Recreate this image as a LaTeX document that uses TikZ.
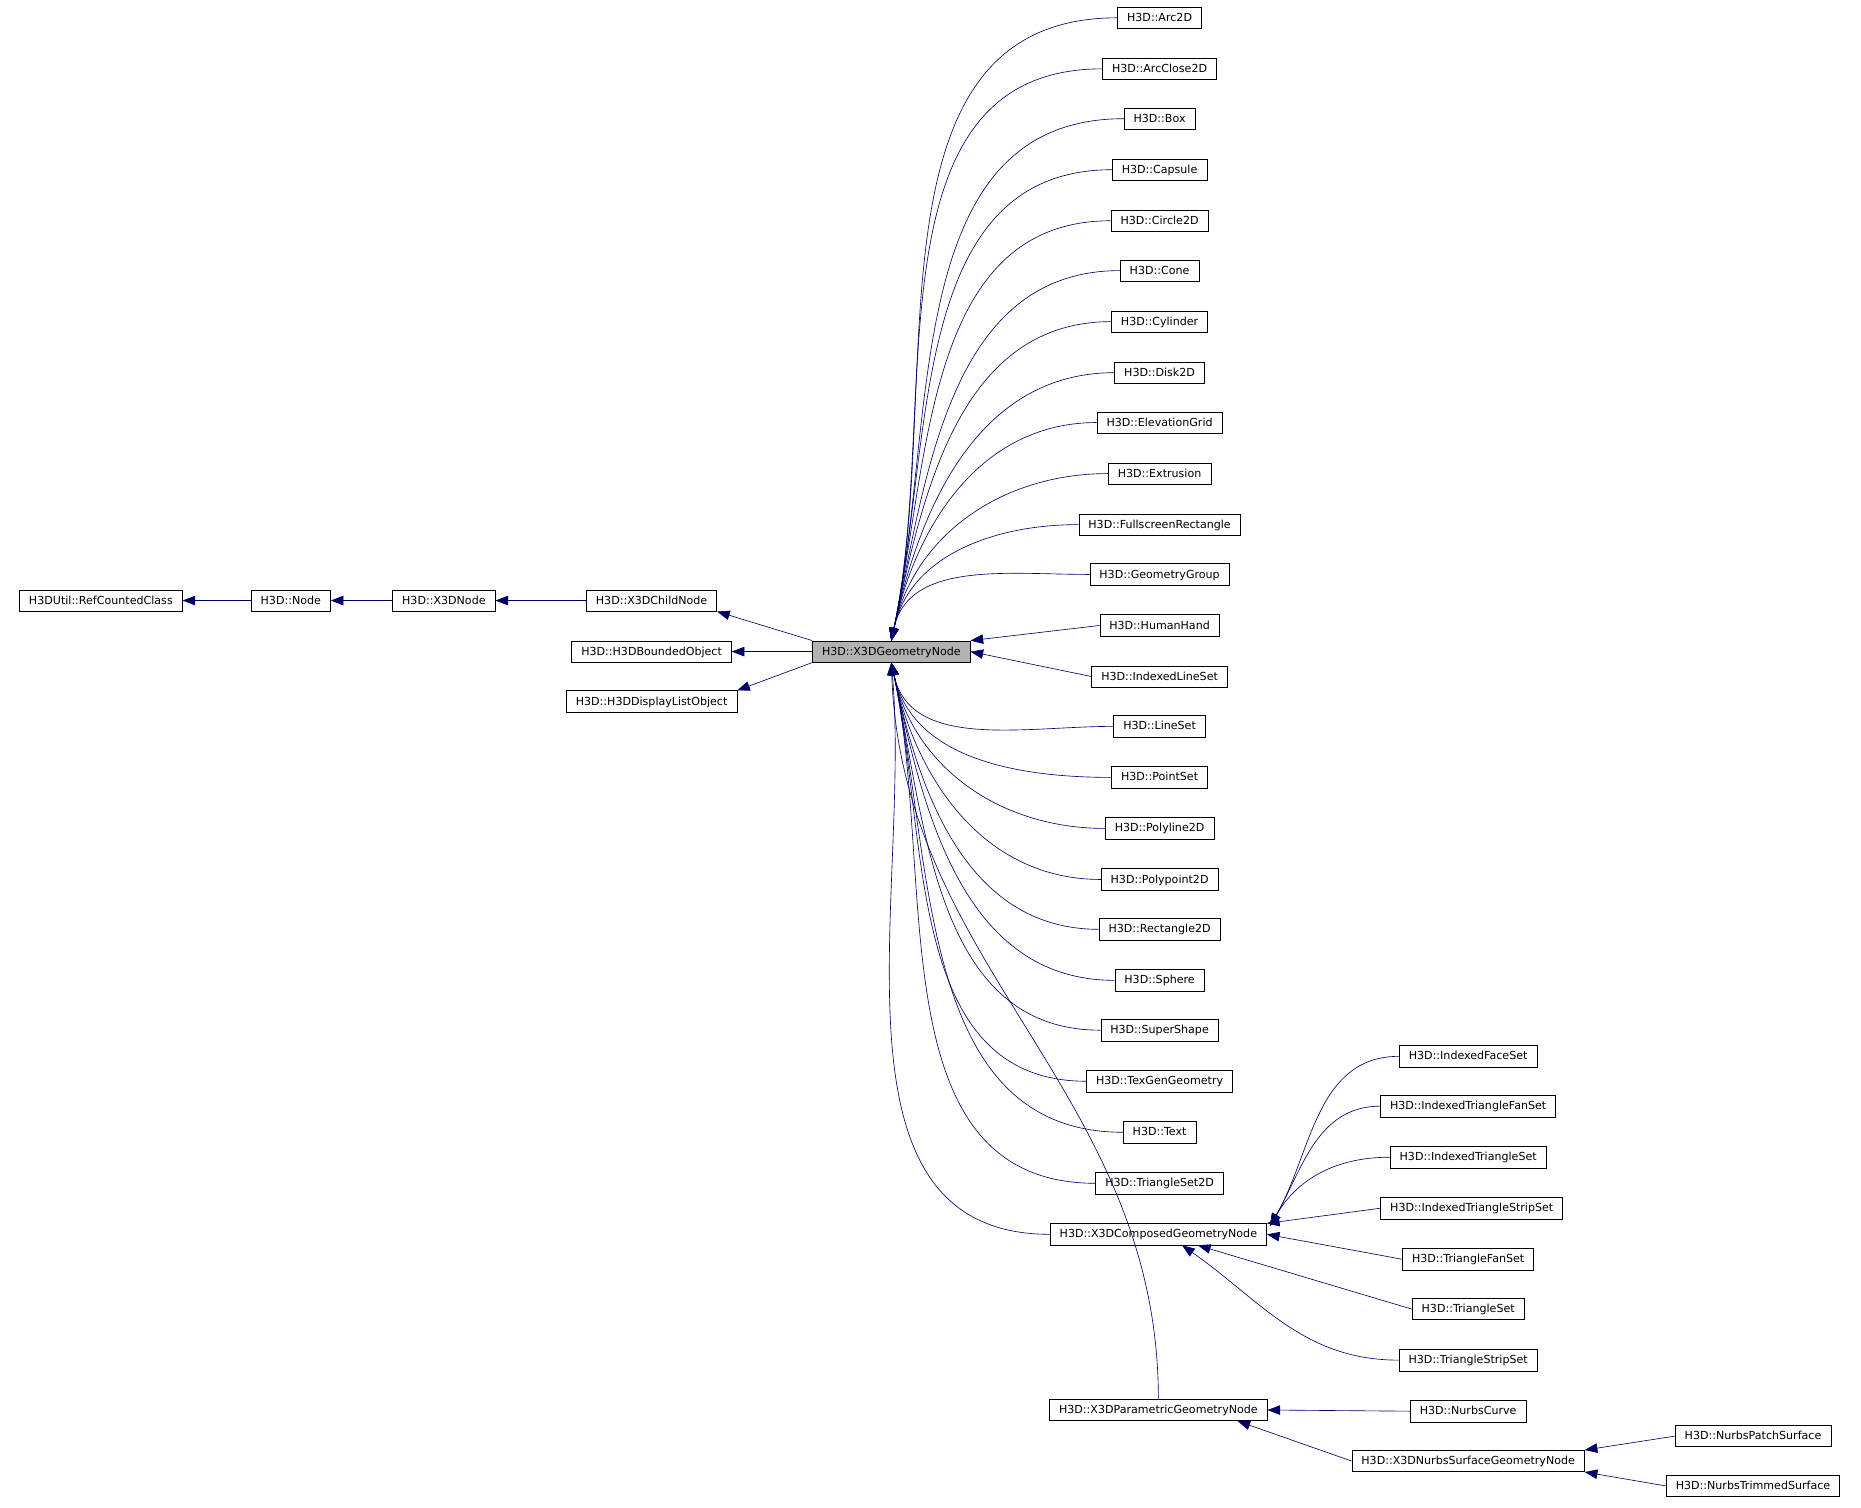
\documentclass[tikz,border=0pt]{standalone}
\usepackage{fontspec}
\setsansfont{DejaVu Sans}
\usetikzlibrary{positioning,arrows.meta}
\tikzset{
  cls/.style = {draw=black, rectangle, inner sep=0pt, minimum height=13.5pt,
    font=\sffamily\fontsize{7}{8}\selectfont, text height=6pt, text depth=1.5pt,
    inner xsep=6pt, fill=white},
  cur/.style = {cls, fill=black!30},
  inh/.style = {draw=blue!40!black, {Triangle[width=6pt,length=8pt]}-}
}
\begin{document}
\begin{tikzpicture}[x=0.75pt,y=-0.75pt]
\useasboundingbox (0,0) rectangle (1568,1270);
% ancestors
\node [cls] (rc) at (85,506) {H3DUtil::RefCountedClass};
\node [cls] (nd) at (245,506) {H3D::Node};
\node [cls] (xn) at (374,506) {H3D::X3DNode};
\node [cls] (ch) at (549,506) {H3D::X3DChildNode};
\node [cls] (bo) at (549,549) {H3D::H3DBoundedObject};
\node [cls] (dl) at (549,591) {H3D::H3DDisplayListObject};
\node [cur] (g) at (751,549) {H3D::X3DGeometryNode};
\draw [inh] (rc) -- (nd);
\draw [inh] (nd) -- (xn);
\draw [inh] (xn) -- (ch);
\draw [inh] (ch.south east) -- (g.north west);
\draw [inh] (bo) -- (g);
\draw [inh] (dl.north east) -- (g.south west);
% direct children
\foreach \n/\t/\y in {a/Arc2D/15, b/ArcClose2D/58, c/Box/100, d/Capsule/143,
  e/Circle2D/186, f/Cone/228, h/Cylinder/271, i/Disk2D/314, j/ElevationGrid/356,
  k/Extrusion/399, l/FullscreenRectangle/442, m/GeometryGroup/484}{
  \node [cls] (\n) at (977,\y) {H3D::\t};
  \draw [inh] (g.north) to[out=78,in=180] (\n.west);
}
\node [cls] (hh) at (977,527) {H3D::HumanHand};
\draw [inh] (g.north east) -- (hh.west);
\node [cls] (il) at (977,570) {H3D::IndexedLineSet};
\draw [inh] (g.east) -- (il.west);
\foreach \n/\t/\y in {n/LineSet/612, o/PointSet/655, p/Polyline2D/698,
  q/Polypoint2D/741, r/Rectangle2D/783, s/Sphere/826, t/SuperShape/868,
  u/TexGenGeometry/911, v/Text/954, w/TriangleSet2D/997}{
  \node [cls] (\n) at (977,\y) {H3D::\t};
  \draw [inh] (g.south) to[out=-78,in=180] (\n.west);
}
\node [cls] (cg) at (976,1040) {H3D::X3DComposedGeometryNode};
\draw [inh] (g.south) to[out=-85,in=180] (cg.west);
\node [cls] (pg) at (976,1188) {H3D::X3DParametricGeometryNode};
\draw [inh] (g.south) to[out=-88,in=90] (pg.north);
% composed children
\coordinate (cgt) at (1070,1033);
\foreach \n/\t/\y in {ifs/IndexedFaceSet/890, itf/IndexedTriangleFanSet/932,
  its/IndexedTriangleSet/975}{
  \node [cls] (\n) at (1237,\y) {H3D::\t};
  \draw [inh] (cgt) to[out=60,in=180] (\n.west);
}
\node [cls] (iss) at (1240,1018) {H3D::IndexedTriangleStripSet};
\draw [inh] (cg.north east) -- (iss.west);
\node [cls] (tfs) at (1237,1061) {H3D::TriangleFanSet};
\draw [inh] (cg.east) -- (tfs.west);
\node [cls] (ts) at (1237,1103) {H3D::TriangleSet};
\draw [inh] ([xshift=25pt]cg.south) -- (ts.west);
\node [cls] (tss) at (1237,1146) {H3D::TriangleStripSet};
\draw [inh] ([xshift=15pt]cg.south) to[out=-35,in=180] (tss.west);
% parametric children
\node [cls] (nc) at (1237,1189) {H3D::NurbsCurve};
\draw [inh] (pg.east) -- (nc.west);
\node [cls] (ns) at (1237,1231) {H3D::X3DNurbsSurfaceGeometryNode};
\draw [inh] ([xshift=50pt]pg.south) -- (ns.west);
\node [cls] (np) at (1477,1210) {H3D::NurbsPatchSurface};
\draw [inh] (ns.north east) -- (np.west);
\node [cls] (nt) at (1477,1252) {H3D::NurbsTrimmedSurface};
\draw [inh] (ns.south east) -- (nt.west);
\end{tikzpicture}
\end{document}
